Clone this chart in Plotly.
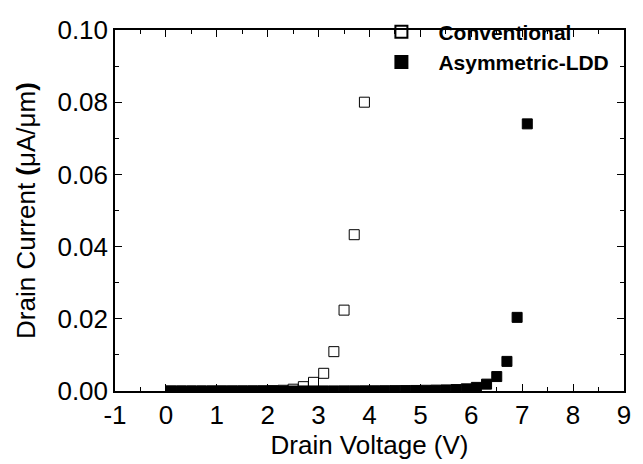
import plotly.graph_objects as go

# Drain voltage (V)
v_conv = [0.1, 0.3, 0.5, 0.7, 0.9, 1.1, 1.3, 1.5, 1.7, 1.9, 2.1, 2.3, 2.5, 2.7, 2.9, 3.1, 3.3, 3.5, 3.7, 3.9]
i_conv = [0.0, 0.0, 0.0, 0.0, 0.0, 0.00001, 0.00001, 0.00002, 0.00003, 0.00005, 0.0001, 0.0002,
          0.0005, 0.0012, 0.0024, 0.0049, 0.0109, 0.0224, 0.0433, 0.0800]

v_ldd = [0.1, 0.3, 0.5, 0.7, 0.9, 1.1, 1.3, 1.5, 1.7, 1.9, 2.1, 2.3, 2.5, 2.7, 2.9, 3.1, 3.3, 3.5, 3.7,
         3.9, 4.1, 4.3, 4.5, 4.7, 4.9, 5.1, 5.3, 5.5, 5.7, 5.9, 6.1, 6.3, 6.5, 6.7, 6.9, 7.1]
i_ldd = [0.0, 0.0, 0.0, 0.0, 0.0, 0.0, 0.0, 0.0, 0.0, 0.0, 0.0, 0.0, 0.0, 0.00001, 0.00001, 0.00002,
         0.00002, 0.00003, 0.00004, 0.00005, 0.00006, 0.00008, 0.0001, 0.00012, 0.00015, 0.0002,
         0.00025, 0.0003, 0.0004, 0.0006, 0.001, 0.0019, 0.004, 0.0082, 0.0204, 0.0740]

x_ticks = [-1, 0, 1, 2, 3, 4, 5, 6, 7, 8, 9]
y_ticks = [0.0, 0.02, 0.04, 0.06, 0.08, 0.10]

FONT = "Liberation Sans, Arial"

fig = go.Figure()
fig.add_trace(go.Scatter(
    x=v_ldd, y=i_ldd, mode="markers", name="Asymmetric-LDD", legendrank=2,
    marker=dict(symbol="square", size=10, color="black", line=dict(color="black", width=1)),
))
fig.add_trace(go.Scatter(
    x=v_conv, y=i_conv, mode="markers", name="Conventional", legendrank=1,
    marker=dict(symbol="square-open", size=10, color="black", line=dict(color="black", width=1)),
))

axis_common = dict(
    showline=True, linecolor="black", linewidth=1.5, mirror="ticks",
    ticks="inside", ticklen=7, tickwidth=1.2, tickcolor="black",
    showgrid=False, zeroline=False,
    tickfont=dict(family=FONT, size=26, color="black"),
)

fig.update_layout(
    width=643, height=464,
    margin=dict(l=115, r=12, t=19, b=72),
    paper_bgcolor="white", plot_bgcolor="white",
    showlegend=True,
    legend=dict(
        x=0.490, y=1.051, xanchor="left", yanchor="top",
        traceorder="normal", itemwidth=64,
        bgcolor="rgba(0,0,0,0)",
        font=dict(family=FONT, size=21, color="black", weight="bold"),
        itemsizing="constant",
    ),
    xaxis=dict(
        axis_common, range=[-1, 9], tickvals=x_ticks, ticktext=[str(t) for t in x_ticks],
        minor=dict(ticks="inside", ticklen=4, dtick=0.5, tickcolor="black"),
        title=dict(text="Drain Voltage (V)", font=dict(family=FONT, size=26, color="black"), standoff=4),
    ),
    yaxis=dict(
        axis_common, range=[0, 0.10], tickvals=y_ticks, ticktext=["%.2f" % t for t in y_ticks],
        minor=dict(ticks="inside", ticklen=4, dtick=0.01, tickcolor="black"),
        title=dict(text="Drain Current <b>(</b>μA/μm<b>)</b>", font=dict(family=FONT, size=26, color="black"), standoff=14),
    ),
)

fig.write_html("out.html")
